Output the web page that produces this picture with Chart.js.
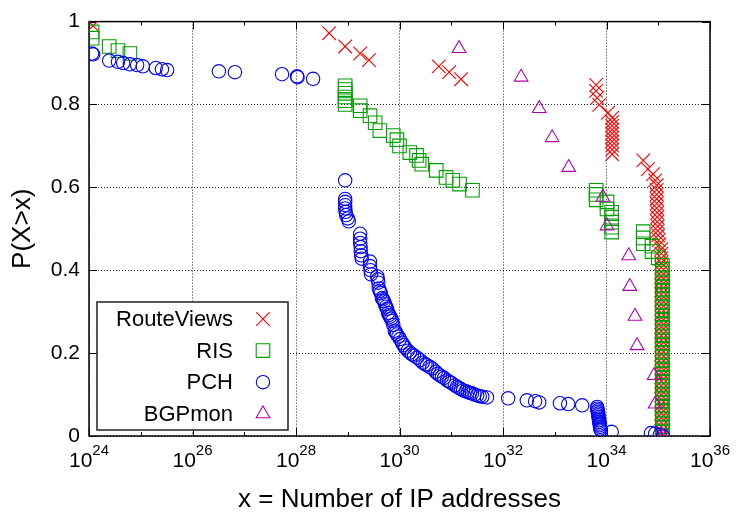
<!DOCTYPE html>
<html lang="en">
<head>
<meta charset="UTF-8">
<title>P(X>x) - Number of IP addresses</title>
<style>
    body {
        margin: 0;
        background: #fff;
    }
    #wrap {
        width: 743px;
        height: 517px;
    }
</style>
</head>
<body>
<div id="wrap"><canvas id="chart" width="743" height="517"></canvas></div>
<script src="https://cdn.jsdelivr.net/npm/chart.js"></script>
<script>
    // values: [log10(x), P(X>x)]
    const routeViewsPts = [
        [24.08, 0.990], [28.64, 0.972], [28.95, 0.940], [29.24, 0.923], [29.41, 0.907],
        [30.76, 0.892], [30.96, 0.878], [31.19, 0.861],
        [33.80, 0.847], [33.80, 0.833], [33.82, 0.816], [33.86, 0.799], [34.03, 0.780],
        [34.11, 0.768], [34.11, 0.758], [34.11, 0.749], [34.11, 0.739], [34.11, 0.730],
        [34.11, 0.720], [34.11, 0.711], [34.11, 0.701], [34.11, 0.691], [34.11, 0.680],
        [34.71, 0.665], [34.80, 0.644], [34.90, 0.632], [34.94, 0.617],
        [34.97, 0.605], [34.97, 0.594], [34.97, 0.583], [34.97, 0.572], [34.97, 0.561],
        [34.97, 0.550], [34.98, 0.539], [34.98, 0.528], [34.98, 0.517], [34.99, 0.506],
        [34.99, 0.495], [35.00, 0.484], [35.01, 0.473], [35.02, 0.462],
        [35.06, 0.451], [35.06, 0.440], [35.06, 0.429], [35.06, 0.418], [35.06, 0.407],
        [35.06, 0.396], [35.06, 0.385], [35.06, 0.374], [35.06, 0.363], [35.06, 0.352],
        [35.06, 0.341], [35.06, 0.330], [35.06, 0.319], [35.06, 0.308], [35.06, 0.297],
        [35.06, 0.286], [35.06, 0.275], [35.06, 0.264], [35.06, 0.253], [35.06, 0.242],
        [35.06, 0.231], [35.06, 0.220], [35.06, 0.209], [35.06, 0.198], [35.06, 0.187],
        [35.06, 0.176], [35.06, 0.165], [35.06, 0.154], [35.06, 0.143], [35.06, 0.132],
        [35.06, 0.121], [35.06, 0.110], [35.06, 0.099], [35.06, 0.088], [35.06, 0.077],
        [35.06, 0.066], [35.06, 0.055], [35.06, 0.044], [35.06, 0.033], [35.06, 0.022],
        [35.06, 0.011], [35.06, 0.000]
    ];
    const risPts = [
        [24.06, 0.975], [24.06, 0.960], [24.39, 0.940], [24.56, 0.930], [24.79, 0.923],
        [28.95, 0.845], [28.95, 0.836], [28.95, 0.827], [28.95, 0.818], [28.95, 0.809], [28.95, 0.800],
        [29.24, 0.797], [29.24, 0.785], [29.43, 0.773], [29.53, 0.756], [29.62, 0.737],
        [29.88, 0.725], [29.95, 0.715], [30.00, 0.700], [30.20, 0.684], [30.33, 0.677],
        [30.38, 0.665], [30.43, 0.656], [30.71, 0.641], [30.90, 0.624], [31.03, 0.617],
        [31.16, 0.608], [31.41, 0.593],
        [33.80, 0.593], [33.80, 0.583], [33.80, 0.570], [34.01, 0.565], [34.01, 0.548],
        [34.10, 0.540], [34.10, 0.528], [34.10, 0.516], [34.10, 0.504], [34.10, 0.492],
        [34.71, 0.493], [34.71, 0.478], [34.71, 0.464], [34.88, 0.458], [34.88, 0.445], [35.00, 0.430],
        [35.08, 0.412], [35.08, 0.402], [35.08, 0.392], [35.08, 0.382], [35.08, 0.372],
        [35.08, 0.362], [35.08, 0.352], [35.08, 0.342], [35.08, 0.332], [35.08, 0.322],
        [35.08, 0.312], [35.08, 0.302], [35.08, 0.292], [35.08, 0.282], [35.08, 0.272],
        [35.08, 0.262], [35.08, 0.252], [35.08, 0.242], [35.08, 0.232], [35.08, 0.222],
        [35.08, 0.212], [35.08, 0.202], [35.08, 0.192], [35.08, 0.182], [35.08, 0.172],
        [35.08, 0.162], [35.08, 0.152], [35.08, 0.142], [35.08, 0.132], [35.08, 0.122],
        [35.08, 0.112], [35.08, 0.102], [35.08, 0.092], [35.08, 0.082], [35.08, 0.072],
        [35.08, 0.062], [35.08, 0.052], [35.08, 0.042], [35.08, 0.032], [35.08, 0.022],
        [35.08, 0.012], [35.08, 0.002]
    ];
    const pchPts = [
        [24.06, 0.923], [24.08, 0.921], [24.39, 0.906], [24.56, 0.903], [24.66, 0.900],
        [24.79, 0.897], [24.93, 0.895], [25.04, 0.892], [25.29, 0.888], [25.41, 0.885],
        [25.51, 0.883], [26.51, 0.880], [26.82, 0.878], [27.73, 0.873], [28.02, 0.868],
        [28.03, 0.866], [28.33, 0.862],
        [28.95, 0.617], [28.95, 0.572], [28.95, 0.565], [28.95, 0.557], [28.95, 0.549],
        [28.96, 0.541], [28.97, 0.533], [29.00, 0.525], [29.02, 0.518],
        [29.24, 0.488], [29.24, 0.476], [29.24, 0.466], [29.25, 0.456], [29.25, 0.446],
        [29.26, 0.436], [29.27, 0.428],
        [29.43, 0.421], [29.43, 0.410], [29.44, 0.400], [29.45, 0.390],
        [29.57, 0.385], [29.58, 0.378], [29.59, 0.370], [29.60, 0.356], [29.62, 0.350],
        [29.64, 0.345], [29.66, 0.333], [29.68, 0.330], [29.70, 0.325], [29.72, 0.318],
        [29.74, 0.312], [29.76, 0.307], [29.78, 0.297], [29.80, 0.292], [29.82, 0.288],
        [29.84, 0.283], [29.86, 0.278], [29.88, 0.268], [29.91, 0.254], [29.93, 0.250],
        [29.95, 0.245], [29.98, 0.240], [30.01, 0.234], [30.05, 0.225], [30.08, 0.219],
        [30.11, 0.213], [30.16, 0.206], [30.20, 0.201], [30.24, 0.197], [30.28, 0.194],
        [30.34, 0.189], [30.40, 0.183], [30.45, 0.177], [30.50, 0.173], [30.53, 0.171],
        [30.58, 0.167], [30.63, 0.163], [30.70, 0.155], [30.74, 0.150], [30.78, 0.146],
        [30.82, 0.143], [30.86, 0.140], [30.92, 0.134], [30.96, 0.131], [31.00, 0.128],
        [31.07, 0.122], [31.11, 0.119], [31.15, 0.116], [31.19, 0.113], [31.23, 0.110],
        [31.28, 0.108], [31.32, 0.106], [31.36, 0.104], [31.40, 0.103], [31.45, 0.100],
        [31.50, 0.098], [31.55, 0.096], [31.60, 0.095], [31.69, 0.093], [32.10, 0.091],
        [32.46, 0.086], [32.62, 0.084], [32.70, 0.081], [33.10, 0.079], [33.26, 0.077], [33.53, 0.074],
        [33.82, 0.070], [33.82, 0.066], [33.83, 0.062], [33.83, 0.058], [33.84, 0.054],
        [33.84, 0.050], [33.85, 0.046], [33.85, 0.042], [33.86, 0.038], [33.86, 0.034],
        [33.87, 0.030], [33.87, 0.026], [33.88, 0.022], [33.88, 0.018], [33.89, 0.014],
        [34.10, 0.010], [34.86, 0.007], [34.94, 0.006], [35.03, 0.003], [35.09, 0.000]
    ];
    const bgpmonPts = [
        [31.15, 0.935], [32.35, 0.866], [32.70, 0.790], [32.95, 0.720], [33.27, 0.648],
        [33.93, 0.576], [34.01, 0.507], [34.43, 0.435], [34.45, 0.361], [34.55, 0.289],
        [34.59, 0.218], [34.92, 0.146], [34.94, 0.077], [35.08, 0.000]
    ];

    const seriesNames = ['RouteViews', 'RIS', 'PCH', 'BGPmon'];
    const xTickExps = [24, 26, 28, 30, 32, 34, 36];
    const yTickValues = [0, 0.2, 0.4, 0.6, 0.8, 1];
    const yTickLabels = ['0', '0.2', '0.4', '0.6', '0.8', '1'];
    const xTitle = 'x = Number of IP addresses';
    const yTitle = 'P(X>x)';

    const FONT = "'Liberation Sans', Arial, Helvetica, sans-serif";

    function toXY(pts) {
        return pts.map(p => ({ x: Math.pow(10, p[0]), y: p[1] }));
    }

    const styles = [
        { color: '#ff0000', pointStyle: 'crossRot', radius: 9.6 },
        { color: '#00a000', pointStyle: 'rect', radius: 9.6 },
        { color: '#0000ff', pointStyle: 'circle', radius: 6.7 },
        { color: '#b400b4', pointStyle: 'triangle', radius: 7.9 }
    ];
    const allPts = [routeViewsPts, risPts, pchPts, bgpmonPts];

    const datasets = allPts.map((pts, i) => ({
        label: seriesNames[i],
        data: toXY(pts),
        pointStyle: styles[i].pointStyle,
        pointRadius: styles[i].radius,
        pointHoverRadius: styles[i].radius,
        pointBorderWidth: 1.1,
        borderColor: styles[i].color,
        backgroundColor: 'rgba(0,0,0,0)',
        order: 3 - i // later series on top, like gnuplot
    }));

    // box, inward ticks (both sides)
    const framePlugin = {
        id: 'frame',
        beforeDatasetsDraw(chart) {
            const { ctx, chartArea: a, scales: { x, y } } = chart;
            ctx.save();
            ctx.strokeStyle = '#000';
            ctx.lineWidth = 1;
            ctx.beginPath();
            for (let e = xTickExps[0]; e <= xTickExps[xTickExps.length - 1]; e++) {
                const px = Math.round(x.getPixelForValue(Math.pow(10, e))) + 0.5;
                const len = xTickExps.includes(e) ? 8 : 4;
                ctx.moveTo(px, a.bottom); ctx.lineTo(px, a.bottom - len);
                ctx.moveTo(px, a.top); ctx.lineTo(px, a.top + len);
            }
            yTickValues.forEach(v => {
                const py = Math.round(y.getPixelForValue(v)) + 0.5;
                ctx.moveTo(a.left, py); ctx.lineTo(a.left + 8, py);
                ctx.moveTo(a.right, py); ctx.lineTo(a.right - 8, py);
            });
            ctx.stroke();
            ctx.lineWidth = 1.5;
            ctx.strokeRect(a.left, a.top, a.right - a.left, a.bottom - a.top);
            ctx.restore();
        }
    };

    // 10^n labels with real superscripts
    const xLabelPlugin = {
        id: 'xLabels',
        afterDraw(chart) {
            const { ctx, scales: { x } } = chart;
            ctx.save();
            ctx.fillStyle = '#000';
            ctx.textBaseline = 'alphabetic';
            ctx.textAlign = 'left';
            xTickExps.forEach(e => {
                const px = x.getPixelForValue(Math.pow(10, e));
                ctx.font = '21px ' + FONT;
                const wBase = ctx.measureText('10').width;
                ctx.font = '15px ' + FONT;
                const wExp = ctx.measureText(String(e)).width;
                const left = px - (wBase + wExp) / 2;
                ctx.font = '21px ' + FONT;
                ctx.fillText('10', left, x.top + 31);
                ctx.font = '15px ' + FONT;
                ctx.fillText(String(e), left + wBase, x.top + 19);
            });
            ctx.restore();
        }
    };

    // gnuplot-style key: label right-aligned, sample marker on the right
    const keyPlugin = {
        id: 'key',
        afterDraw(chart) {
            const ctx = chart.ctx;
            const a = chart.chartArea;
            const bx = a.left + 8, by = 302, bw = 191, bh = 128;
            ctx.save();
            ctx.fillStyle = '#fff';
            ctx.fillRect(bx, by, bw, bh);
            ctx.strokeStyle = '#222';
            ctx.lineWidth = 1.5;
            ctx.strokeRect(bx, by, bw, bh);
            ctx.font = '22px ' + FONT;
            ctx.textAlign = 'right';
            ctx.textBaseline = 'middle';
            seriesNames.forEach((name, i) => {
                const ty = by + 17 + i * 31.6;
                ctx.fillStyle = '#000';
                ctx.fillText(name, bx + 136, ty + 1);
                ctx.strokeStyle = styles[i].color;
                ctx.fillStyle = 'rgba(0,0,0,0)';
                ctx.lineWidth = 1.1;
                Chart.helpers.drawPoint(ctx, {
                    pointStyle: styles[i].pointStyle,
                    radius: styles[i].radius,
                    rotation: 0,
                    borderWidth: 1.1
                }, bx + 166, ty);
            });
            ctx.restore();
        }
    };

    const ctx = document.getElementById('chart').getContext('2d');
    new Chart(ctx, {
        type: 'scatter',
        data: { datasets: datasets },
        options: {
            responsive: false,
            animation: false,
            layout: { padding: { left: 0, right: 33, top: 18, bottom: 0 } },
            plugins: {
                legend: { display: false },
                tooltip: { enabled: false }
            },
            scales: {
                x: {
                    type: 'logarithmic',
                    min: 1e24,
                    max: 1e36,
                    afterBuildTicks: s => { s.ticks = xTickExps.map(e => ({ value: Math.pow(10, e) })); },
                    afterFit: s => { s.height = 81; },
                    ticks: { display: false },
                    grid: { color: '#222', lineWidth: 1, drawTicks: false },
                    border: { display: false, dash: [1, 2] },
                    title: {
                        display: true,
                        text: xTitle,
                        color: '#000',
                        font: { family: FONT, size: 26, lineHeight: 1 },
                        padding: { top: 0, bottom: 4 }
                    }
                },
                y: {
                    min: 0,
                    max: 1,
                    afterBuildTicks: s => { s.ticks = yTickValues.map(v => ({ value: v })); },
                    afterFit: s => { s.width = 89; },
                    ticks: {
                        callback: (v, i) => yTickLabels[i],
                        color: '#000',
                        font: { family: FONT, size: 21 },
                        padding: 9
                    },
                    grid: { color: '#222', lineWidth: 1, drawTicks: false },
                    border: { display: false, dash: [1, 2] },
                    title: {
                        display: true,
                        text: yTitle,
                        color: '#000',
                        font: { family: FONT, size: 26, lineHeight: 1 },
                        padding: { top: 10, bottom: 0 }
                    }
                }
            }
        },
        plugins: [framePlugin, xLabelPlugin, keyPlugin]
    });
</script>
</body>
</html>
